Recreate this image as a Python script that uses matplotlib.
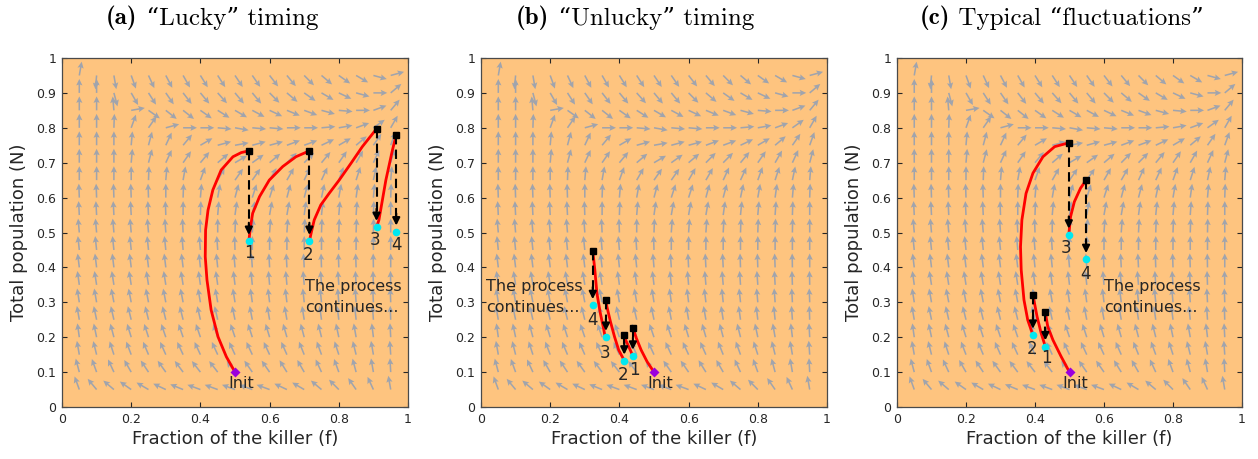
import numpy as np
import matplotlib
matplotlib.use("Agg")
import matplotlib.pyplot as plt

# direction field grid (f across, N down from top row)
grid_f = [0.05, 0.10, 0.15, 0.20, 0.25, 0.30, 0.35, 0.40, 0.45, 0.50,
          0.55, 0.60, 0.65, 0.70, 0.75, 0.80, 0.85, 0.90, 0.95]
grid_n = [0.95, 0.90, 0.85, 0.80, 0.75, 0.70, 0.65, 0.60, 0.55, 0.50,
          0.45, 0.40, 0.35, 0.30, 0.25, 0.20, 0.15, 0.10, 0.05]

# arrow angles in degrees (0 = right, 90 = up)
field_deg = [
    [80, -95, -80, -70, -65, -62, -60, -58, -57, -56, -55, -52, -50, -45, -40, -35, -30, -15, 15],
    [90, 90, -75, -60, -57, -55, -52, -50, -48, -50, -50, -45, -40, -35, -30, -25, -15, 0, 40],
    [90, 90, 95, 10, -35, -38, -38, -35, -32, -30, -28, -25, -22, -20, -15, -5, 0, 20, 50],
    [90, 90, 88, 70, 55, 15, 0, 0, -5, -10, -5, -5, 0, 0, 5, 10, 20, 35, 60],
    [90, 90, 90, 85, 75, 65, 50, 30, 15, 10, 15, 15, 20, 20, 25, 30, 40, 55, 70],
    [90, 90, 90, 85, 75, 65, 55, 50, 40, 30, 35, 40, 45, 45, 50, 55, 60, 65, 75],
    [90, 90, 90, 90, 88, 85, 80, 70, 60, 55, 55, 60, 60, 65, 65, 70, 72, 78, 85],
    [92, 92, 92, 92, 92, 90, 88, 85, 80, 75, 72, 72, 75, 75, 78, 80, 82, 85, 88],
    [93, 93, 93, 93, 93, 92, 90, 88, 85, 82, 80, 80, 80, 82, 84, 85, 86, 88, 90],
    [95, 95, 95, 95, 95, 94, 93, 92, 90, 88, 86, 86, 86, 87, 88, 88, 88, 89, 90],
    [96, 96, 96, 96, 96, 96, 95, 95, 94, 92, 90, 90, 90, 90, 90, 90, 90, 90, 90],
    [97, 97, 97, 97, 97, 97, 97, 96, 96, 95, 94, 93, 93, 93, 92, 92, 92, 91, 90],
    [98, 99, 99, 99, 99, 99, 99, 98, 98, 97, 96, 95, 95, 95, 94, 94, 93, 92, 91],
    [99, 100, 101, 101, 101, 101, 101, 100, 100, 99, 98, 97, 97, 96, 96, 95, 94, 93, 92],
    [100, 102, 103, 104, 104, 104, 104, 103, 103, 102, 101, 100, 100, 99, 98, 97, 96, 94, 92],
    [98, 102, 105, 107, 108, 109, 109, 109, 109, 109, 108, 107, 106, 105, 104, 102, 100, 97, 93],
    [100, 104, 108, 111, 113, 114, 115, 115, 115, 115, 115, 115, 114, 112, 110, 108, 104, 100, 94],
    [105, 110, 115, 120, 124, 126, 127, 128, 128, 127, 125, 125, 122, 120, 115, 110, 105, 100, 93],
    [110, 130, 140, 145, 150, 155, 158, 160, 160, 160, 160, 160, 155, 150, 140, 135, 125, 115, 100],
]

init_pt = (0.5, 0.1)

# ---- panel (a) "Lucky" ----
a_curves = [
    ([0.5, 0.475, 0.451, 0.431, 0.419, 0.414, 0.415, 0.422, 0.436, 0.46, 0.494, 0.518, 0.54],
     [0.1, 0.144, 0.201, 0.278, 0.364, 0.431, 0.507, 0.564, 0.622, 0.679, 0.717, 0.729, 0.734]),
    ([0.54, 0.542, 0.545, 0.551, 0.571, 0.599, 0.638, 0.676, 0.715],
     [0.475, 0.493, 0.517, 0.555, 0.603, 0.65, 0.689, 0.717, 0.734]),
    ([0.715, 0.72, 0.729, 0.748, 0.772, 0.801, 0.835, 0.868, 0.909],
     [0.475, 0.498, 0.536, 0.579, 0.612, 0.65, 0.698, 0.746, 0.797]),
    ([0.909, 0.916, 0.936, 0.955, 0.966],
     [0.515, 0.536, 0.65, 0.736, 0.78]),
]
a_top_f = [0.54, 0.715, 0.909, 0.966]
a_top_n = [0.734, 0.734, 0.797, 0.78]
a_low_n = [0.475, 0.475, 0.515, 0.502]
a_lab_f = [0.542, 0.71, 0.905, 0.968]
a_lab_n = [0.44, 0.435, 0.478, 0.464]
a_text = (0.703, 0.315)

# ---- panel (b) "Unlucky" ----
b_curves = [
    ([0.5, 0.48, 0.463, 0.449, 0.441, 0.439],
     [0.1, 0.13, 0.163, 0.197, 0.221, 0.227]),
    ([0.439, 0.427, 0.418, 0.414],
     [0.146, 0.173, 0.192, 0.205]),
    ([0.414, 0.411, 0.398, 0.386, 0.374, 0.364, 0.361],
     [0.132, 0.139, 0.163, 0.201, 0.245, 0.287, 0.306]),
    ([0.359, 0.355, 0.345, 0.335, 0.329, 0.323],
     [0.2, 0.221, 0.268, 0.326, 0.393, 0.448]),
]
b_top_f = [0.439, 0.414, 0.361, 0.323]
b_top_n = [0.227, 0.205, 0.306, 0.448]
b_low_n = [0.146, 0.132, 0.2, 0.291]
b_lab_f = [0.443, 0.411, 0.357, 0.321]
b_lab_n = [0.106, 0.092, 0.154, 0.249]
b_text = (0.014, 0.315)

# ---- panel (c) typical ----
c_curves = [
    ([0.5, 0.476, 0.452, 0.437, 0.43],
     [0.1, 0.144, 0.192, 0.23, 0.271]),
    ([0.43, 0.418, 0.406, 0.394],
     [0.173, 0.211, 0.259, 0.321]),
    ([0.394, 0.379, 0.368, 0.36, 0.358, 0.362, 0.374, 0.394, 0.423, 0.457, 0.498],
     [0.206, 0.249, 0.307, 0.393, 0.459, 0.536, 0.612, 0.67, 0.717, 0.746, 0.757]),
    ([0.498, 0.503, 0.514, 0.532, 0.548],
     [0.493, 0.545, 0.588, 0.627, 0.65]),
]
c_top_f = [0.43, 0.394, 0.498, 0.548]
c_top_n = [0.271, 0.321, 0.757, 0.65]
c_low_n = [0.173, 0.206, 0.493, 0.423]
c_lab_f = [0.432, 0.392, 0.49, 0.546]
c_lab_n = [0.14, 0.165, 0.455, 0.381]
c_text = (0.6, 0.315)

title_tags = ["(a)", "(b)", "(c)"]
title_rest = ["“Lucky” timing", "“Unlucky” timing", "Typical “fluctuations”"]
title_x = [212, 635, 1062]

BG = "#fec47f"
ARROW = "#a0a4ad"
DARK = "#262626"

W, H = 1258, 459
fig = plt.figure(figsize=(W / 100, H / 100), dpi=100)
lefts = [62, 481, 897]
widths = [346, 346, 345]

F, NN = np.meshgrid(grid_f, grid_n)
ang = np.deg2rad(np.array(field_deg, dtype=float))
L = 0.04
U = L * np.cos(ang)
V = L * np.sin(ang)

panels = [
    (a_curves, a_top_f, a_top_n, a_low_n, a_lab_f, a_lab_n, a_text),
    (b_curves, b_top_f, b_top_n, b_low_n, b_lab_f, b_lab_n, b_text),
    (c_curves, c_top_f, c_top_n, c_low_n, c_lab_f, c_lab_n, c_text),
]

renderer = fig.canvas.get_renderer()

for i, (curves, tf, tn, ln, lf, lnn, txt) in enumerate(panels):
    ax = fig.add_axes([lefts[i] / W, 52 / H, widths[i] / W, 349 / H])
    ax.set_facecolor(BG)
    ax.quiver(F, NN, U, V, angles="xy", scale_units="xy", scale=1,
              color=ARROW, width=0.0045, headwidth=4.0, headlength=4.2,
              headaxislength=3.6, zorder=1)

    for cf, cn in curves:
        ax.plot(cf, cn, color="red", lw=2.0, solid_capstyle="round",
                solid_joinstyle="round", zorder=3)

    for k in range(4):
        tip = ln[k] + 0.018
        ax.plot([tf[k], tf[k]], [tn[k], tip + 0.025], color="k", lw=1.5,
                dashes=(4.5, 2.5), zorder=4)
        ax.annotate("", xy=(tf[k], tip), xytext=(tf[k], tip + 0.035),
                    arrowprops=dict(arrowstyle="-|>", color="k", lw=1.5,
                                    mutation_scale=11, shrinkA=0, shrinkB=0),
                    zorder=4)
        ax.plot(tf[k], tn[k], "s", color="k", ms=4.5, zorder=5)
        ax.plot(tf[k], ln[k], "o", color="#00e8f0", ms=5.5, mec="none", zorder=6)
        ax.text(lf[k], lnn[k], str(k + 1), ha="center", va="center",
                fontsize=12, color=DARK, zorder=6)

    ax.plot(*init_pt, "D", color="#9a00dd", ms=5, mec="none", zorder=6)
    ax.text(0.517, 0.067, "Init", ha="center", va="center", fontsize=11.5,
            color=DARK, zorder=6)
    ax.text(txt[0], txt[1], "The process\ncontinues...", ha="left", va="center",
            fontsize=11.5, color=DARK, linespacing=1.45, zorder=6)

    ax.set_xlim(0, 1)
    ax.set_ylim(0, 1)
    ax.set_xticks([0, 0.2, 0.4, 0.6, 0.8, 1])
    ax.set_xticklabels(["0", "0.2", "0.4", "0.6", "0.8", "1"])
    ax.set_yticks([0, 0.1, 0.2, 0.3, 0.4, 0.5, 0.6, 0.7, 0.8, 0.9, 1])
    ax.set_yticklabels(["0", "0.1", "0.2", "0.3", "0.4", "0.5", "0.6",
                        "0.7", "0.8", "0.9", "1"])
    ax.tick_params(direction="in", top=True, right=True, length=3.5,
                   width=0.8, labelsize=9, colors=DARK, pad=4)
    for s in ax.spines.values():
        s.set_color("#4a4a4a")
        s.set_linewidth(0.9)
    ax.set_xlabel("Fraction of the killer (f)", fontsize=13, color=DARK, labelpad=3)
    ax.set_ylabel("Total population (N)", fontsize=13, color=DARK, labelpad=6)

    # title: bold tag + regular text, centred as a whole
    ty = 1 - 18 / H
    t1 = fig.text(0, ty, title_tags[i], ha="left", va="center", fontsize=18,
                  family=["cmb10", "DejaVu Serif"], fontweight="bold")
    t2 = fig.text(0, ty, " " + title_rest[i], ha="left", va="center", fontsize=18,
                  family=["cmr10", "DejaVu Serif"])
    w1 = t1.get_window_extent(renderer).width
    w2 = t2.get_window_extent(renderer).width
    x0 = title_x[i] - (w1 + w2) / 2
    t1.set_x(x0 / W)
    t2.set_x((x0 + w1) / W)

fig.savefig("out.png", dpi=100, facecolor="white")
